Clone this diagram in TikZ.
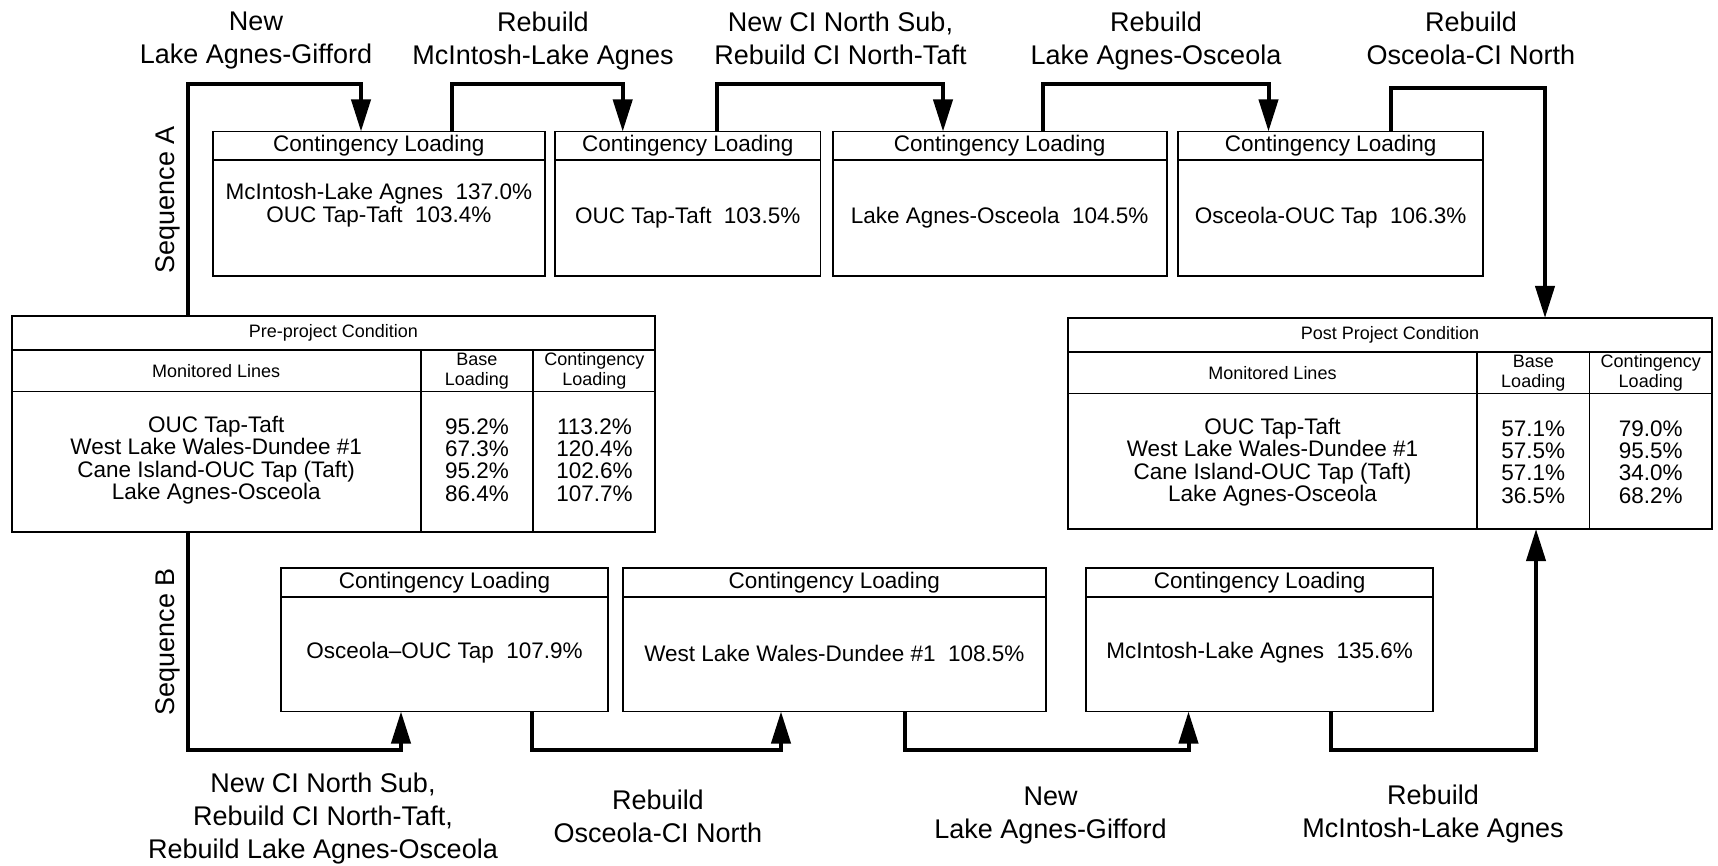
\documentclass[tikz,border=0pt]{standalone}
\usepackage{fontspec}
\setmainfont{Liberation Sans}
\usepackage{tikz}
\usetikzlibrary{arrows.meta,calc,fit}
\def\hdrsep{28.5}
\tikzset{
  cbox/.style={draw,line width=0.9pt,inner sep=0,outer sep=0},
  cline/.style={line width=0.9pt},
  ctext/.style={font=\fontsize{11.25}{11.2}\selectfont,align=center,inner sep=0},
  ttext/.style={font=\fontsize{9}{10}\selectfont,align=center,inner sep=0},
  lbl/.style={font=\fontsize{13.5}{16.5}\selectfont,align=center,inner sep=0,anchor=north},
  seqlbl/.style={font=\fontsize{13.5}{16.5}\selectfont,inner sep=0,rotate=90},
  seqarrow/.style={-{Triangle[length=16pt,width=9.5pt]},line width=2pt}
}

\begin{document}
\begin{tikzpicture}[x=0.5pt,y=-0.5pt]
	\fill[white] (0,0) rectangle (1718,866);

	% Sequence A
	\foreach \nm/\xa/\xb in {A1/212.7/545, A2/555/820.5, A3/832.6/1166.7, A4/1178/1483.3}{
			\node[cbox, fit={(\xa,131.5) (\xb,275.7)}] (\nm) {};
			\draw[cline] ($(\nm.north west)+(0,\hdrsep)$) -- ($(\nm.north east)+(0,\hdrsep)$);
			\node[ctext] (\nm-hdr) at ($(\nm.north)+(0,14.2)$) {Contingency Loading};
		}
	\node[ctext] (A1-txt) at (A1.center |- 0,205) {McIntosh-Lake Agnes~~137.0\%\\OUC Tap-Taft~~103.4\%};
	\node[ctext] (A2-txt) at (A2.center |- 0,218) {OUC Tap-Taft~~103.5\%};
	\node[ctext] (A3-txt) at (A3.center |- 0,218) {Lake Agnes-Osceola~~104.5\%};
	\node[ctext] (A4-txt) at (A4.center |- 0,218) {Osceola-OUC Tap~~106.3\%};

	% Sequence B
	\foreach \nm/\xa/\xb in {B1/280.7/608.3, B2/623/1045.7, B3/1086/1433.3}{
			\node[cbox, fit={(\xa,568.3) (\xb,711.5)}] (\nm) {};
			\draw[cline] ($(\nm.north west)+(0,\hdrsep)$) -- ($(\nm.north east)+(0,\hdrsep)$);
			\node[ctext] (\nm-hdr) at ($(\nm.north)+(0,14.2)$) {Contingency Loading};
		}
	\node[ctext] (B1-txt) at (B1.center |- 0,653) {Osceola–OUC Tap~~107.9\%};
	\node[ctext] (B2-txt) at (B2.center |- 0,653) {West Lake Wales-Dundee \#1~~108.5\%};
	\node[ctext] (B3-txt) at (B3.center |- 0,653) {McIntosh-Lake Agnes~~135.6\%};

	% Tables
	\node[cbox, fit={(11.7,316) (655,531.7)}] (pre) {};
	\node[cbox, fit={(1068,318) (1712,529)}] (post) {};
	\foreach \tb/\ttl in {pre/Pre-project Condition, post/Post Project Condition}{
			\draw[cline] ($(\tb.north west)+(0,34)$) -- ($(\tb.north east)+(0,34)$);
			\draw[cline] ($(\tb.north west)+(0,75.5)$) -- ($(\tb.north east)+(0,75.5)$);
			\draw[cline] ($(\tb.north west)+(409,34)$) -- ($(\tb.south west)+(409,0)$);
			\draw[cline] ($(\tb.north west)+(521.5,34)$) -- ($(\tb.south west)+(521.5,0)$);
			\node[ttext] (\tb-ttl) at ($(\tb.north)+(0,17)$) {\ttl};
			\node[ttext] (\tb-h1) at ($(\tb.north west)+(204.5,55)$) {Monitored Lines};
			\node[ttext] (\tb-h2) at ($(\tb.north west)+(465.25,55)$) {Base\\Loading};
			\node[ttext] (\tb-h3) at ($(\tb.north west)+(582.75,55)$) {Contingency\\Loading};
			\node[ctext] (\tb-lines) at ($(\tb.north west)+(204.5,144)$) {OUC Tap-Taft\\West Lake Wales-Dundee \#1\\Cane Island-OUC Tap (Taft)\\Lake Agnes-Osceola};
		}
	\node[ctext] (pre-base) at ($(pre.north west)+(465.25,144)$) {95.2\%\\67.3\%\\95.2\%\\86.4\%};
	\node[ctext] (pre-cont) at ($(pre.north west)+(582.75,144)$) {113.2\%\\120.4\%\\102.6\%\\107.7\%};
	\node[ctext] (post-base) at ($(post.north west)+(465.25,144)$) {57.1\%\\57.5\%\\57.1\%\\36.5\%};
	\node[ctext] (post-cont) at ($(post.north west)+(582.75,144)$) {79.0\%\\95.5\%\\34.0\%\\68.2\%};

	% Connectors
	\draw[seqarrow] (188,0 |- pre.north) |- (361,84) -- (361,0 |- A1.north);
	\foreach \src/\xs/\dst/\xd in {A1/451.7/A2/622.7, A2/717/A3/943, A3/1043/A4/1268.5}
	\draw[seqarrow] (\xs,0 |- \src.north) |- (\xd,84) -- (\xd,0 |- \dst.north);
	\draw[seqarrow] (1390.5,0 |- A4.north) |- (1545,88) -- (1545,0 |- post.north);

	\draw[seqarrow] (188,0 |- pre.south) |- (401,750) -- (401,0 |- B1.south);
	\foreach \src/\xs/\dst/\xd in {B1/531.7/B2/781, B2/905/B3/1188.5}
	\draw[seqarrow] (\xs,0 |- \src.south) |- (\xd,750) -- (\xd,0 |- \dst.south);
	\draw[seqarrow] (1331,0 |- B3.south) |- (1536,750) -- (1536,0 |- post.south);

	% Labels
	\node[lbl] (lA1) at (256,11.7) {New\\Lake Agnes-Gifford};
	\node[lbl] (lA2) at (543,11.7) {Rebuild\\McIntosh-Lake Agnes};
	\node[lbl] (lA3) at (840.5,11.7) {New CI North Sub,\\Rebuild CI North-Taft};
	\node[lbl] (lA4) at (1156,11.7) {Rebuild\\Lake Agnes-Osceola};
	\node[lbl] (lA5) at (1471,11.7) {Rebuild\\Osceola-CI North};

	\node[lbl] (lB1) at (323,773) {New CI North Sub,\\Rebuild CI North-Taft,\\Rebuild Lake Agnes-Osceola};
	\node[lbl] (lB2) at (658,790) {Rebuild\\Osceola-CI North};
	\node[lbl] (lB3) at (1050.5,787) {New\\Lake Agnes-Gifford};
	\node[lbl] (lB4) at (1433,785) {Rebuild\\McIntosh-Lake Agnes};

	\node[seqlbl] (seqA) at (168,200) {Sequence A};
	\node[seqlbl] (seqB) at (168,642) {Sequence B};
\end{tikzpicture}
\end{document}
